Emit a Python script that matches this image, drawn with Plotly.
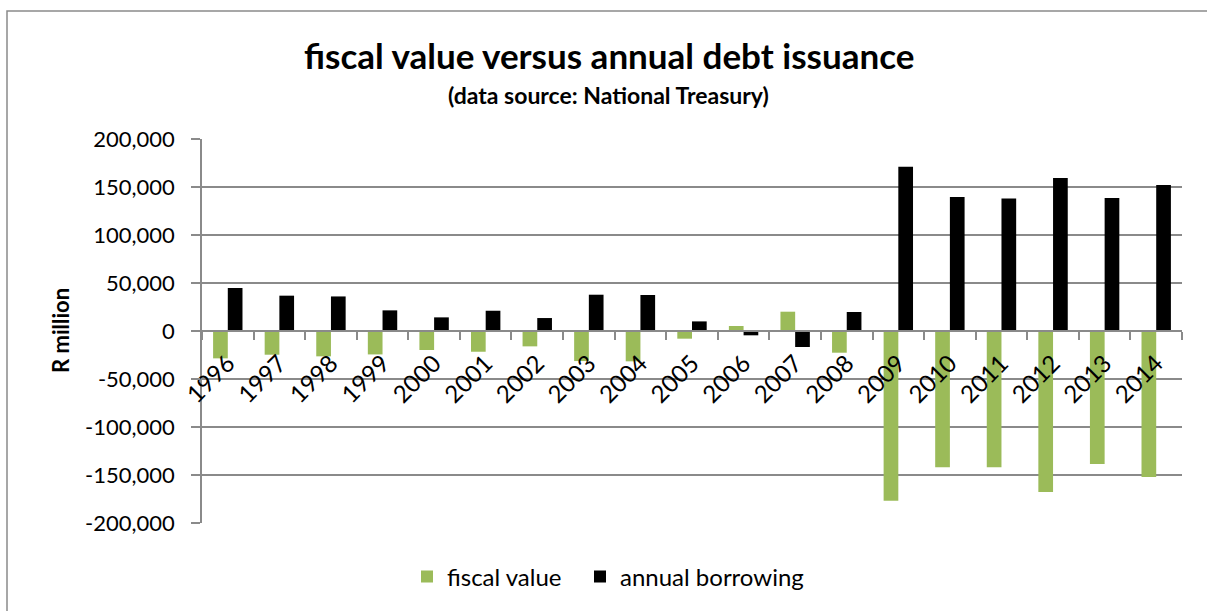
import plotly.graph_objects as go

years = [str(y) for y in range(1996, 2015)]
fiscal_value = [-28500, -24700, -26400, -24400, -19800, -21600, -16000, -31300, -31600,
                -8000, 5200, 20100, -22600, -176800, -142000, -142000, -167700, -138500, -152000]
annual_borrowing = [44800, 36800, 36000, 21500, 14200, 21100, 13500, 37800, 37500,
                    10000, -4500, -16700, 19800, 171100, 139600, 138100, 159400, 138500, 152000]
y_tick_vals = [200000, 150000, 100000, 50000, 0, -50000, -100000, -150000, -200000]
y_tick_text = ["200,000", "150,000", "100,000", "50,000", "0", "-50,000", "-100,000", "-150,000", "-200,000"]

W, H = 1207, 611
ML, MR, MT, MB = 202, 25, 139, 88
PW, PH = W - ML - MR, H - MT - MB

def px_x(p):
    return (p - ML) / PW

def px_y(p):
    return (H - MB - p) / PH

FONT = "Lato"
GRID = "#8a8a8a"

fig = go.Figure()
fig.add_trace(go.Bar(x=years, y=fiscal_value, name="fiscal value", legend="legend",
                     marker=dict(color="#9BBB59", line=dict(width=0))))
fig.add_trace(go.Bar(x=years, y=annual_borrowing, name="annual borrowing", legend="legend2",
                     marker=dict(color="#000000", line=dict(width=0))))

legend_common = dict(orientation="h", y=px_y(577), yanchor="middle", xanchor="left",
                     font=dict(size=24), itemsizing="constant", bgcolor="rgba(0,0,0,0)")

fig.update_layout(
    width=W, height=H,
    margin=dict(l=ML, r=MR, t=MT, b=MB),
    paper_bgcolor="white", plot_bgcolor="white",
    barmode="group", bargap=0.43, bargroupgap=0,
    font=dict(family=FONT, size=22, color="#000000"),
    showlegend=True,
    legend=dict(x=px_x(407), **legend_common),
    legend2=dict(x=px_x(580), **legend_common),
    xaxis=dict(type="category", anchor="free", position=0.5,
               showline=True, linecolor=GRID, linewidth=1.5,
               ticks="outside", tickson="boundaries", ticklen=8, tickcolor=GRID, tickwidth=1.5,
               tickangle=-45, tickfont=dict(size=24), ticklabelstandoff=8,
               showgrid=False, zeroline=False),
    yaxis=dict(range=[-200000, 200000], tickvals=y_tick_vals, ticktext=y_tick_text,
               showline=True, linecolor=GRID, linewidth=1.5,
               ticks="outside", ticklen=9, tickcolor=GRID, tickwidth=1.5, ticklabelstandoff=12,
               showgrid=True, gridcolor=GRID, gridwidth=1.5, zeroline=False,
               tickfont=dict(size=22)),
    annotations=[
        dict(text="<b>fiscal value versus annual debt issuance</b>", xref="paper", yref="paper",
             x=px_x(609), y=px_y(55), xanchor="center", yanchor="middle", showarrow=False,
             font=dict(size=35, family=FONT)),
        dict(text="<b>(data source: National Treasury)</b>", xref="paper", yref="paper",
             x=px_x(608), y=px_y(95), xanchor="center", yanchor="middle", showarrow=False,
             font=dict(size=23, family=FONT)),
        dict(text="<b>R million</b>", xref="paper", yref="paper",
             x=px_x(60), y=px_y(331), xanchor="center", yanchor="middle", showarrow=False,
             textangle=-90, font=dict(size=22, family=FONT)),
    ],
    shapes=[dict(type="rect", xref="paper", yref="paper",
                 x0=px_x(7), x1=px_x(1230), y0=px_y(11), y1=px_y(640),
                 line=dict(color="#8a8a8a", width=1.5), fillcolor="rgba(0,0,0,0)", layer="below")],
)

fig.write_html("out.html")
